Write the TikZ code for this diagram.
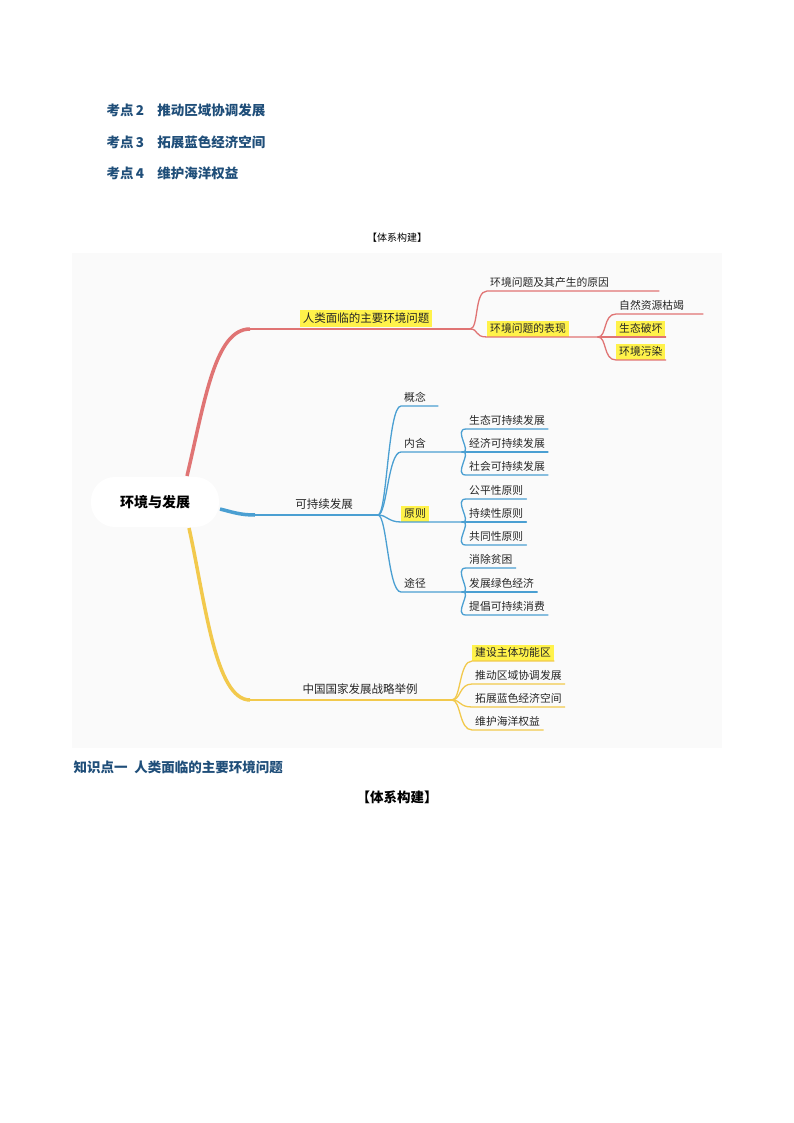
\documentclass[tikz,border=0pt]{standalone}
\usepackage{fontspec}
\setmainfont{Noto Sans CJK SC}
\definecolor{rbr}{HTML}{E07474}
\definecolor{bbr}{HTML}{4A9FD2}
\definecolor{ybr}{HTML}{F2C94C}
\definecolor{hl}{HTML}{FFF24A}
\definecolor{kblue}{HTML}{1F4E79}
\definecolor{panel}{HTML}{FAFAFA}
\tikzset{
 leaf/.style={anchor=south west,inner xsep=3pt,inner ysep=3pt,font=\fontsize{10.8}{12}\selectfont,text=black!85},
 hilite/.style={fill=hl},
 kd/.style={anchor=west,font=\fontsize{13.5}{15}\selectfont\bfseries,text=kblue},
 br/.style={line width=1.3pt,line cap=round},
}
\newcommand{\lk}[4]{\draw[br,#1] (#2) .. controls +(9,0) and +(-13,0) .. (#3.south west) -- (#3.south east);}
\newcommand{\lkw}[4]{\draw[br,#1] (#2) .. controls +(9,0) and +(-13,0) .. (#3.south west) -- +(#4,0);}
\begin{document}
\begin{tikzpicture}[x=1pt,y=-1pt]
\useasboundingbox (0,0) rectangle (794,1123);
\fill[panel] (72,253) rectangle (722,748);
% top text
\node[kd] (k2) at (103,110) {考点\,2\quad 推动区域协调发展};
\node[kd] (k3) at (103,142) {考点\,3\quad 拓展蓝色经济空间};
\node[kd] (k4) at (103,173) {考点\,4\quad 维护海洋权益};
\node[font=\fontsize{10}{12}\selectfont] (t1) at (397,238) {【体系构建】};
\node[kd,anchor=west] (z1) at (70,767) {知识点一\enspace 人类面临的主要环境问题};
\node[font=\fontsize{13.5}{15}\selectfont\bfseries] (t2) at (397,797) {【体系构建】};
% root
\node[fill=white,rounded corners=24pt,minimum width=128pt,minimum height=50pt,font=\fontsize{14}{16}\selectfont\bfseries] (root) at (155,502) {环境与发展};
% red branch
\coordinate (rsplit) at (470,329);
\coordinate (rbend) at (250,329);
\coordinate (rroot) at (187,476);
\draw[rbr,line width=3.5pt] (rroot) .. controls (205,400) and (215,329) .. (rbend);
\draw[br,rbr] (rbend) -- (rsplit);
\node[leaf,hilite,font=\fontsize{11.5}{13}\selectfont,anchor=south] (r1) at (366,327) {人类面临的主要环境问题};
\node[leaf] (r11) at (487,291) {环境问题及其产生的原因};
\node[leaf,hilite] (r12) at (487,337) {环境问题的表现};
\lkw{rbr}{rsplit}{r11}{172}
\lkw{rbr}{rsplit}{r12}{111}
\coordinate (rsplitb) at (598,337);
\node[leaf] (a1) at (616,314) {自然资源枯竭};
\node[leaf,hilite] (a2) at (616,337) {生态破坏};
\node[leaf,hilite] (a3) at (616,360) {环境污染};
\lkw{rbr}{rsplitb}{a1}{87}
\lk{rbr}{rsplitb}{a2}{}
\lk{rbr}{rsplitb}{a3}{}
% blue branch
\coordinate (bsplit) at (378,515);
\coordinate (bbend) at (255,515);
\coordinate (broot) at (220,509);
\draw[bbr,line width=3.5pt] (broot) .. controls (232,512) and (240,515) .. (bbend);
\draw[br,bbr] (bbend) -- (bsplit);
\node[leaf,font=\fontsize{11.5}{13}\selectfont,anchor=south] (b1) at (324,513) {可持续发展};
\node[leaf] (c1) at (401,406) {概念};
\node[leaf] (c2) at (401,452) {内含};
\node[leaf,hilite] (c3) at (401,522) {原则};
\node[leaf] (c4) at (401,592) {途径};
\lkw{bbr}{bsplit}{c1}{37}
\lkw{bbr}{bsplit}{c2}{62}
\lkw{bbr}{bsplit}{c3}{62}
\lkw{bbr}{bsplit}{c4}{62}
\coordinate (s2) at (463,452);
\coordinate (s3) at (463,522);
\coordinate (s4) at (463,592);
\node[leaf] (d1) at (466,429) {生态可持续发展};
\node[leaf] (d2) at (466,452) {经济可持续发展};
\node[leaf] (d3) at (466,475) {社会可持续发展};
\node[leaf] (e1) at (466,499) {公平性原则};
\node[leaf] (e2) at (466,522) {持续性原则};
\node[leaf] (e3) at (466,545) {共同性原则};
\node[leaf] (f1) at (466,568) {消除贫困};
\node[leaf] (f2) at (466,592) {发展绿色经济};
\node[leaf] (f3) at (466,615) {提倡可持续消费};
\lk{bbr}{s2}{d1}{}
\lk{bbr}{s2}{d2}{}
\lk{bbr}{s2}{d3}{}
\lk{bbr}{s3}{e1}{}
\lk{bbr}{s3}{e2}{}
\lk{bbr}{s3}{e3}{}
\lk{bbr}{s4}{f1}{}
\lk{bbr}{s4}{f2}{}
\lk{bbr}{s4}{f3}{}
% yellow branch
\coordinate (ysplit) at (452,700);
\coordinate (ybend) at (250,700);
\coordinate (yroot) at (189,528);
\draw[ybr,line width=3.5pt] (yroot) .. controls (205,600) and (215,700) .. (ybend);
\draw[br,ybr] (ybend) -- (ysplit);
\node[leaf,font=\fontsize{11.5}{13}\selectfont,anchor=south] (y1) at (360,698) {中国国家发展战略举例};
\node[leaf,hilite] (g1) at (472,661) {建设主体功能区};
\node[leaf] (g2) at (472,684) {推动区域协调发展};
\node[leaf] (g3) at (472,707) {拓展蓝色经济空间};
\node[leaf] (g4) at (472,730) {维护海洋权益};
\lk{ybr}{ysplit}{g1}{}
\lk{ybr}{ysplit}{g2}{}
\lk{ybr}{ysplit}{g3}{}
\lk{ybr}{ysplit}{g4}{}
\end{tikzpicture}
\end{document}
